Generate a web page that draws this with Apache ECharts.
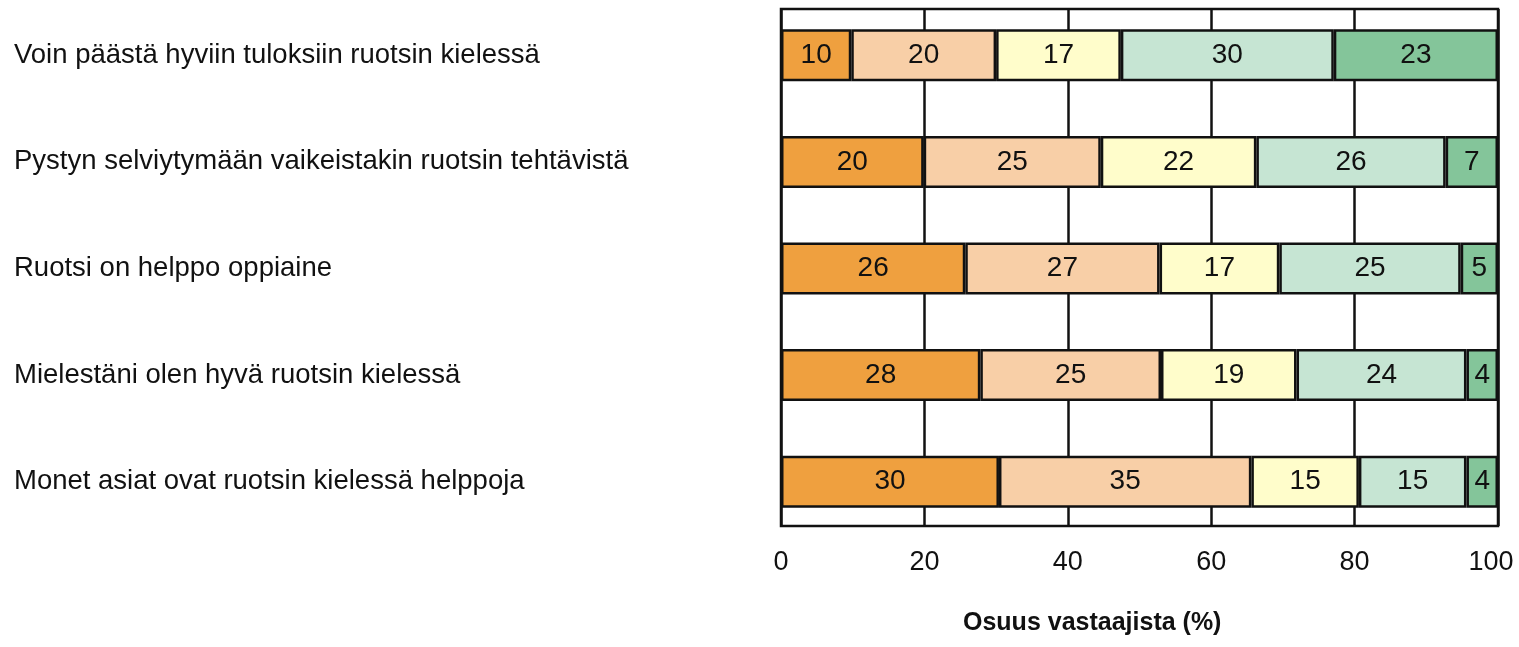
<!DOCTYPE html>
<html>
<head>
<meta charset="utf-8">
<title>Ruotsin kieli</title>
<script src="https://cdn.jsdelivr.net/npm/echarts@6/dist/echarts.min.js"></script>
<style>
  html, body { margin: 0; padding: 0; background: #fff; }
  #chart { width: 1519px; height: 647px; }
</style>
</head>
<body>
<div id="chart"></div>
<script>
  // väittämät, ylhäältä alas
  const categories = [
    "Voin päästä hyviin tuloksiin ruotsin kielessä",
    "Pystyn selviytymään vaikeistakin ruotsin tehtävistä",
    "Ruotsi on helppo oppiaine",
    "Mielestäni olen hyvä ruotsin kielessä",
    "Monet asiat ovat ruotsin kielessä helppoja",
  ]
  // osuudet (%) luettu kuvasta, tarrat pyöristetään
  const stronglyDisagree = [9.8, 19.9, 25.7, 27.8, 30.4]
  const disagree = [20.2, 24.7, 27.1, 25.2, 35.2]
  const neutral = [17.4, 21.7, 16.7, 18.9, 15.0]
  const agree = [29.7, 26.4, 25.3, 23.7, 15.0]
  const stronglyAgree = [22.9, 7.3, 5.2, 4.4, 4.4]
  const xTicks = [0, 20, 40, 60, 80, 100]

  const font = "'Liberation Sans', Arial, sans-serif"
  const colors = ["#EFA03F", "#F8CFA7", "#FFFDCB", "#C6E5D3", "#84C59A"]

  const seriesData = [stronglyDisagree, disagree, neutral, agree, stronglyAgree]
  const xMax = xTicks[xTicks.length - 1]

  const option = {
    backgroundColor: "#fff",
    animation: false,
    title: {
      text: "Osuus vastaajista (%)",
      left: 958,
      top: 606,
      textStyle: {
        fontFamily: font,
        fontSize: 25,
        fontWeight: "bold",
        color: "#111",
      },
    },
    grid: [
      // kehys + pystyviivat
      {
        left: 781, right: 21, top: 9, bottom: 121,
        show: true, borderColor: "#111", borderWidth: 2.5,
        outerBoundsMode: "none",
      },
      // palkit
      { left: 781, right: 21, top: 2, bottom: 112, outerBoundsMode: "none" },
    ],
    xAxis: [
      {
        gridIndex: 0,
        type: "value",
        min: xTicks[0],
        max: xMax,
        interval: 20,
        axisLine: { show: false },
        axisTick: { show: false },
        splitLine: { show: true, lineStyle: { color: "#111", width: 2.5 } },
        axisLabel: {
          margin: 23,
          fontFamily: font,
          fontSize: 27,
          color: "#111",
          // viimeinen tarra hieman vasemmalle, kuten alkuperäisessä
          formatter: (v) => (v === xMax ? "{last|" + v + "}" : String(v)),
          rich: {
            last: { fontFamily: font, fontSize: 27, color: "#111", padding: [0, 14, 0, 0] },
          },
        },
      },
      {
        gridIndex: 1,
        type: "value",
        min: 0,
        max: 100,
        show: false,
      },
    ],
    yAxis: [
      { gridIndex: 0, type: "value", show: false },
      {
        gridIndex: 1,
        type: "category",
        inverse: true,
        data: categories,
        axisLine: { show: false },
        axisTick: { show: false },
        splitLine: { show: false },
        axisLabel: {
          align: "left",
          margin: 767,
          fontFamily: font,
          fontSize: 27.5,
          color: "#111",
        },
      },
    ],
    series: seriesData.map((d, i) => ({
      type: "bar",
      xAxisIndex: 1,
      yAxisIndex: 1,
      stack: "total",
      barWidth: 52,
      data: d,
      itemStyle: {
        color: colors[i],
        borderColor: "#111",
        borderWidth: 2.5,
      },
      label: {
        show: true,
        position: "inside",
        fontFamily: font,
        fontSize: 28,
        color: "#111",
        formatter: (p) => Math.round(p.value),
      },
    })),
  }

  const myChart = echarts.init(document.getElementById("chart"))
  myChart.setOption(option)
</script>
</body>
</html>
